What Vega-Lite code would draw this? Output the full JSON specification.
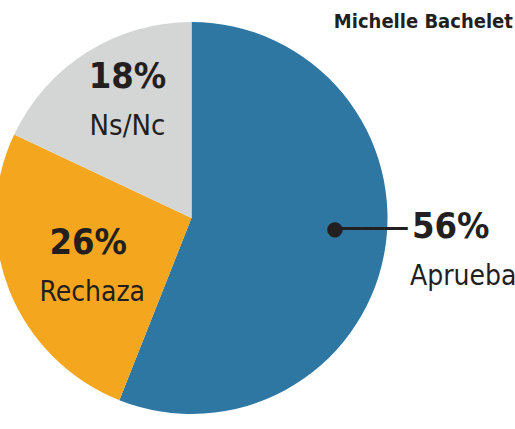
{
  "$schema": "https://vega.github.io/schema/vega-lite/v6.json",
  "width": 383,
  "height": 376,
  "autosize": {"type": "none"},
  "padding": {"left": 0, "top": 30, "right": 132, "bottom": 23},
  "background": "white",
  "config": {"view": {"stroke": null}},
  "data": {
    "values": [
      {"categoria": "Aprueba", "valor": 56, "orden": 1, "pct": "56%", "titulo": "Michelle Bachelet"},
      {"categoria": "Rechaza", "valor": 26, "orden": 2, "pct": "26%", "titulo": "Michelle Bachelet"},
      {"categoria": "Ns/Nc", "valor": 18, "orden": 3, "pct": "18%", "titulo": "Michelle Bachelet"}
    ]
  },
  "encoding": {
    "theta": {"field": "valor", "type": "quantitative", "stack": true},
    "order": {"field": "orden", "type": "quantitative", "sort": "ascending"}
  },
  "layer": [
    {
      "mark": {"type": "arc", "outerRadius": 196},
      "encoding": {
        "color": {
          "field": "categoria",
          "type": "nominal",
          "scale": {"domain": ["Aprueba", "Rechaza", "Ns/Nc"], "range": ["#2E77A3", "#F5A61F", "#D4D5D5"]},
          "legend": null
        }
      }
    },
    {
      "mark": {"type": "text", "radius": 146, "dx": 178, "dy": -217, "baseline": "alphabetic", "align": "right", "font": "DejaVu Sans Condensed", "fontWeight": "bold", "fontSize": 20, "color": "#231F20"},
      "encoding": {"text": {"condition": {"test": "datum.categoria === 'Aprueba'", "field": "titulo"}, "value": ""}}
    },
    {
      "mark": {"type": "text", "radius": 140, "dx": 11, "dy": -12, "baseline": "alphabetic", "font": "DejaVu Sans Condensed", "fontWeight": "bold", "fontSize": 36, "color": "#231F20"},
      "encoding": {"text": {"condition": {"test": "datum.categoria === 'Ns/Nc'", "field": "pct"}, "value": ""}}
    },
    {
      "mark": {"type": "text", "radius": 140, "dx": 11, "dy": 35, "baseline": "alphabetic", "font": "DejaVu Sans Condensed", "fontSize": 29, "color": "#231F20"},
      "encoding": {"text": {"condition": {"test": "datum.categoria === 'Ns/Nc'", "field": "categoria"}, "value": ""}}
    },
    {
      "mark": {"type": "text", "radius": 110, "dx": -1, "dy": -4, "baseline": "alphabetic", "font": "DejaVu Sans Condensed", "fontWeight": "bold", "fontSize": 36, "color": "#231F20"},
      "encoding": {"text": {"condition": {"test": "datum.categoria === 'Rechaza'", "field": "pct"}, "value": ""}}
    },
    {
      "mark": {"type": "text", "radius": 110, "dx": 3, "dy": 43, "baseline": "alphabetic", "font": "DejaVu Sans Condensed", "fontSize": 28, "color": "#231F20"},
      "encoding": {"text": {"condition": {"test": "datum.categoria === 'Rechaza'", "field": "categoria"}, "value": ""}}
    },
    {
      "mark": {"type": "text", "radius": 146, "dx": 0, "dy": -16, "baseline": "middle", "align": "center", "font": "DejaVu Sans", "fontSize": 20, "color": "#231F20"},
      "encoding": {"text": {"condition": {"test": "datum.categoria === 'Aprueba'", "value": "●"}, "value": ""}}
    },
    {
      "mark": {"type": "text", "radius": 146, "dx": 4, "dy": -16, "baseline": "middle", "align": "left", "font": "DejaVu Sans Mono", "fontSize": 19, "color": "#231F20"},
      "encoding": {"text": {"condition": {"test": "datum.categoria === 'Aprueba'", "value": "━━━━━━"}, "value": ""}}
    },
    {
      "mark": {"type": "text", "radius": 146, "dx": 77, "dy": -7, "baseline": "alphabetic", "align": "left", "font": "DejaVu Sans Condensed", "fontWeight": "bold", "fontSize": 36, "color": "#231F20"},
      "encoding": {"text": {"condition": {"test": "datum.categoria === 'Aprueba'", "field": "pct"}, "value": ""}}
    },
    {
      "mark": {"type": "text", "radius": 146, "dx": 75, "dy": 40, "baseline": "alphabetic", "align": "left", "font": "DejaVu Sans Condensed", "fontSize": 28, "color": "#231F20"},
      "encoding": {"text": {"condition": {"test": "datum.categoria === 'Aprueba'", "field": "categoria"}, "value": ""}}
    }
  ]
}
